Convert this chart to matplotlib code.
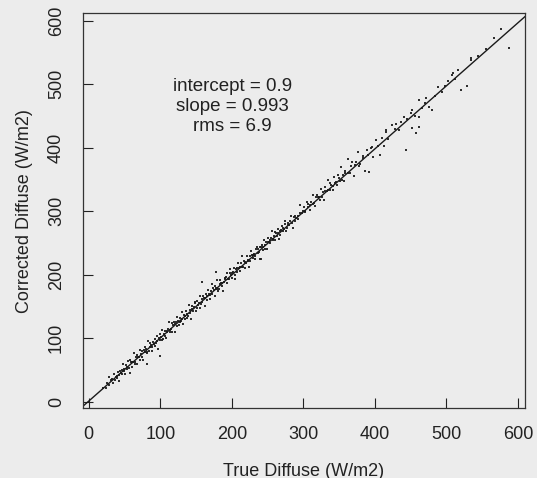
import numpy as np
import matplotlib
matplotlib.use('Agg')
import matplotlib.pyplot as plt

plt.rcParams['font.family'] = ['Liberation Sans', 'DejaVu Sans']

# low range (true, corrected)
x_low = [20, 24, 26, 28, 29, 31, 34, 36, 38, 39, 41, 42, 44, 45, 47, 48, 49, 51, 52, 53,
         55, 56, 57, 58, 60, 61, 62, 63, 65, 66, 67, 68, 70, 71, 72, 73, 74, 76, 77, 78,
         79, 80, 82, 83, 84, 85, 86, 88, 89, 90, 91, 92, 93, 95, 96, 97, 98, 99, 100, 101,
         103, 104, 105, 106, 107, 108, 110, 111, 112, 113, 114, 116, 117, 118, 119, 120,
         121, 123, 124, 125, 126, 127, 129, 130, 131, 132, 133, 135, 136, 137, 138, 140,
         141, 142, 143, 145, 146, 147, 148, 150, 82, 100]
y_low = [22, 21, 30, 27, 39, 34, 29, 44, 39, 37, 47, 33, 48, 45, 43, 59, 51, 44, 57, 52,
         64, 53, 45, 65, 63, 55, 63, 76, 63, 70, 59, 74, 70, 66, 82, 75, 71, 66, 82, 86,
         78, 83, 76, 95, 80, 86, 93, 86, 80, 94, 91, 98, 88, 104, 95, 83, 101, 106, 97, 102,
         113, 98, 107, 104, 112, 100, 110, 115, 126, 109, 113, 124, 110, 121, 125, 109,
         122, 120, 133, 127, 121, 132, 127, 141, 131, 123, 137, 131, 143, 138, 132, 152,
         140, 145, 130, 151, 143, 149, 157, 143, 60, 72]

# middle range
x_mid = [151, 152, 154, 155, 156, 158, 159, 160, 162, 163, 164, 165, 167, 168, 169, 171,
         172, 173, 175, 176, 177, 179, 180, 181, 183, 184, 186, 187, 188, 190, 191, 193,
         194, 195, 197, 198, 200, 201, 203, 204, 206, 207, 209, 210, 212, 213, 215, 216,
         218, 219, 221, 222, 224, 226, 227, 229, 230, 232, 234, 235, 237, 239, 240, 242,
         244, 245, 247, 249, 251, 253, 254, 256, 258, 260, 262, 264, 266, 268, 270, 272,
         274, 276, 278, 280, 283, 285, 288, 290, 293, 296, 299, 159, 178, 241]
y_mid = [147, 158, 155, 147, 166, 161, 157, 167, 151, 163, 169, 160, 176, 170, 162, 175,
         185, 170, 176, 167, 183, 178, 191, 175, 186, 192, 182, 187, 175, 195, 193, 202,
         187, 193, 209, 202, 195, 202, 210, 194, 209, 204, 219, 210, 206, 219, 230, 212,
         220, 211, 229, 221, 212, 230, 238, 226, 231, 225, 240, 244, 235, 225, 243, 247,
         239, 255, 247, 240, 258, 255, 250, 269, 257, 254, 266, 272, 256, 269, 276, 269,
         285, 269, 281, 278, 292, 273, 293, 290, 288, 310, 301, 189, 205, 224]

# upper range
x_high = [301, 303, 305, 307, 309, 311, 313, 315, 317, 319, 321, 323, 325, 327, 329, 331,
          333, 335, 337, 339, 341, 343, 345, 347, 349, 351, 353, 355, 357, 359, 362, 365,
          368, 371, 374, 377, 380, 383, 386, 389, 392, 395, 398, 401, 404, 407, 410, 413,
          416, 419]
y_high = [306, 300, 314, 307, 302, 315, 325, 313, 308, 325, 322, 318, 335, 330, 318, 338,
          332, 349, 333, 341, 333, 354, 345, 341, 357, 348, 369, 357, 347, 364, 382, 361,
          377, 356, 377, 394, 374, 384, 364, 396, 362, 399, 386, 412, 402, 388, 416, 402,
          425, 414]

# sparse tail
x_tail = [424, 416, 434, 452, 462, 441, 450, 462, 452, 466, 476, 480, 462, 489, 494, 509,
          517, 520, 529, 534, 566, 587, 577, 508, 535, 428, 437, 445, 470, 484, 498, 503,
          512, 545, 555, 443, 457, 430, 456, 472]
y_tail = [436, 428, 428, 431, 433, 449, 455, 449, 460, 463, 465, 460, 476, 496, 488, 518,
          523, 491, 498, 542, 573, 557, 587, 515, 539, 430, 441, 446, 471, 482, 497, 505,
          509, 544, 556, 397, 424, 437, 450, 478]

# dense core close to the fit line
x_core = [33, 37, 40, 43, 46, 50, 54, 59, 64, 69, 75, 81, 87, 94, 102, 109, 115, 122, 128,
          134, 139, 144, 149, 153, 157, 161, 166, 170, 174, 178, 182, 185, 189, 192, 196,
          199, 202, 205, 208, 211, 214, 217, 220, 223, 225, 228, 231, 233, 236, 238, 241,
          243, 246, 248, 250, 252, 255, 257, 259, 261, 263, 265, 267, 269, 271, 273, 275,
          277, 279, 282, 284, 287, 289, 292, 295, 298, 302, 306, 310, 314, 318, 322, 326,
          330, 334, 338, 342, 346, 350, 354, 358, 363, 367, 372, 378, 384, 390, 396]
y_core = [35, 34, 41, 42, 50, 48, 54, 62, 60, 70, 80, 78, 89, 93, 97, 112, 115, 126, 126,
          135, 135, 146, 155, 152, 154, 164, 166, 168, 179, 179, 178, 187, 188, 196, 193,
          199, 205, 200, 210, 212, 212, 221, 219, 223, 221, 231, 232, 230, 241, 236, 243,
          243, 241, 252, 251, 251, 258, 254, 261, 267, 261, 265, 263, 270, 274, 272, 280,
          274, 279, 284, 282, 291, 284, 293, 298, 297, 299, 311, 310, 312, 322, 323, 322,
          332, 333, 344, 339, 346, 353, 349, 360, 361, 371, 373, 372, 387, 389, 401]

intercept = 0.9
slope = 0.993
rms = 6.9

x_true = np.array(x_low + x_mid + x_high + x_tail + x_core)
y_corr = np.array(y_low + y_mid + y_high + y_tail + y_core)

fig = plt.figure(figsize=(5.37, 4.78), dpi=100)
fig.patch.set_facecolor('#ececec')
ax = fig.add_axes([0.1546, 0.1464, 0.823, 0.826])
ax.set_facecolor('#ececec')

ax.scatter(x_true, y_corr, s=2.4, c='#1a1a1a', marker='s', linewidths=0, alpha=0.9)
xl = np.array([-10, 610])
ax.plot(xl, intercept + slope * xl, color='#1a1a1a', lw=1.0)

ax.text(201, 497, 'intercept = %.1f' % intercept, ha='center', va='center', fontsize=13.5, color='#222222')
ax.text(201, 465, 'slope = %.3f' % slope, ha='center', va='center', fontsize=13.5, color='#222222')
ax.text(201, 434, 'rms = %.1f' % rms, ha='center', va='center', fontsize=13.5, color='#222222')

ax.set_xlim(-8, 610)
ax.set_ylim(-10, 612)
ticks = [0, 100, 200, 300, 400, 500, 600]
ax.set_xticks(ticks)
ax.set_yticks(ticks)
ax.tick_params(direction='in', length=7, width=0.8, pad=13, labelsize=13, colors='#222222')
for lab in ax.get_yticklabels():
    lab.set_rotation(90)
    lab.set_va('center')
for sp in ax.spines.values():
    sp.set_linewidth(0.9)
    sp.set_color('#333333')

ax.set_xlabel('True Diffuse (W/m2)', fontsize=13, labelpad=14, color='#222222')
ax.set_ylabel('Corrected Diffuse (W/m2)', fontsize=13, labelpad=11, color='#222222')

fig.savefig('out.png', dpi=100, facecolor=fig.get_facecolor())
